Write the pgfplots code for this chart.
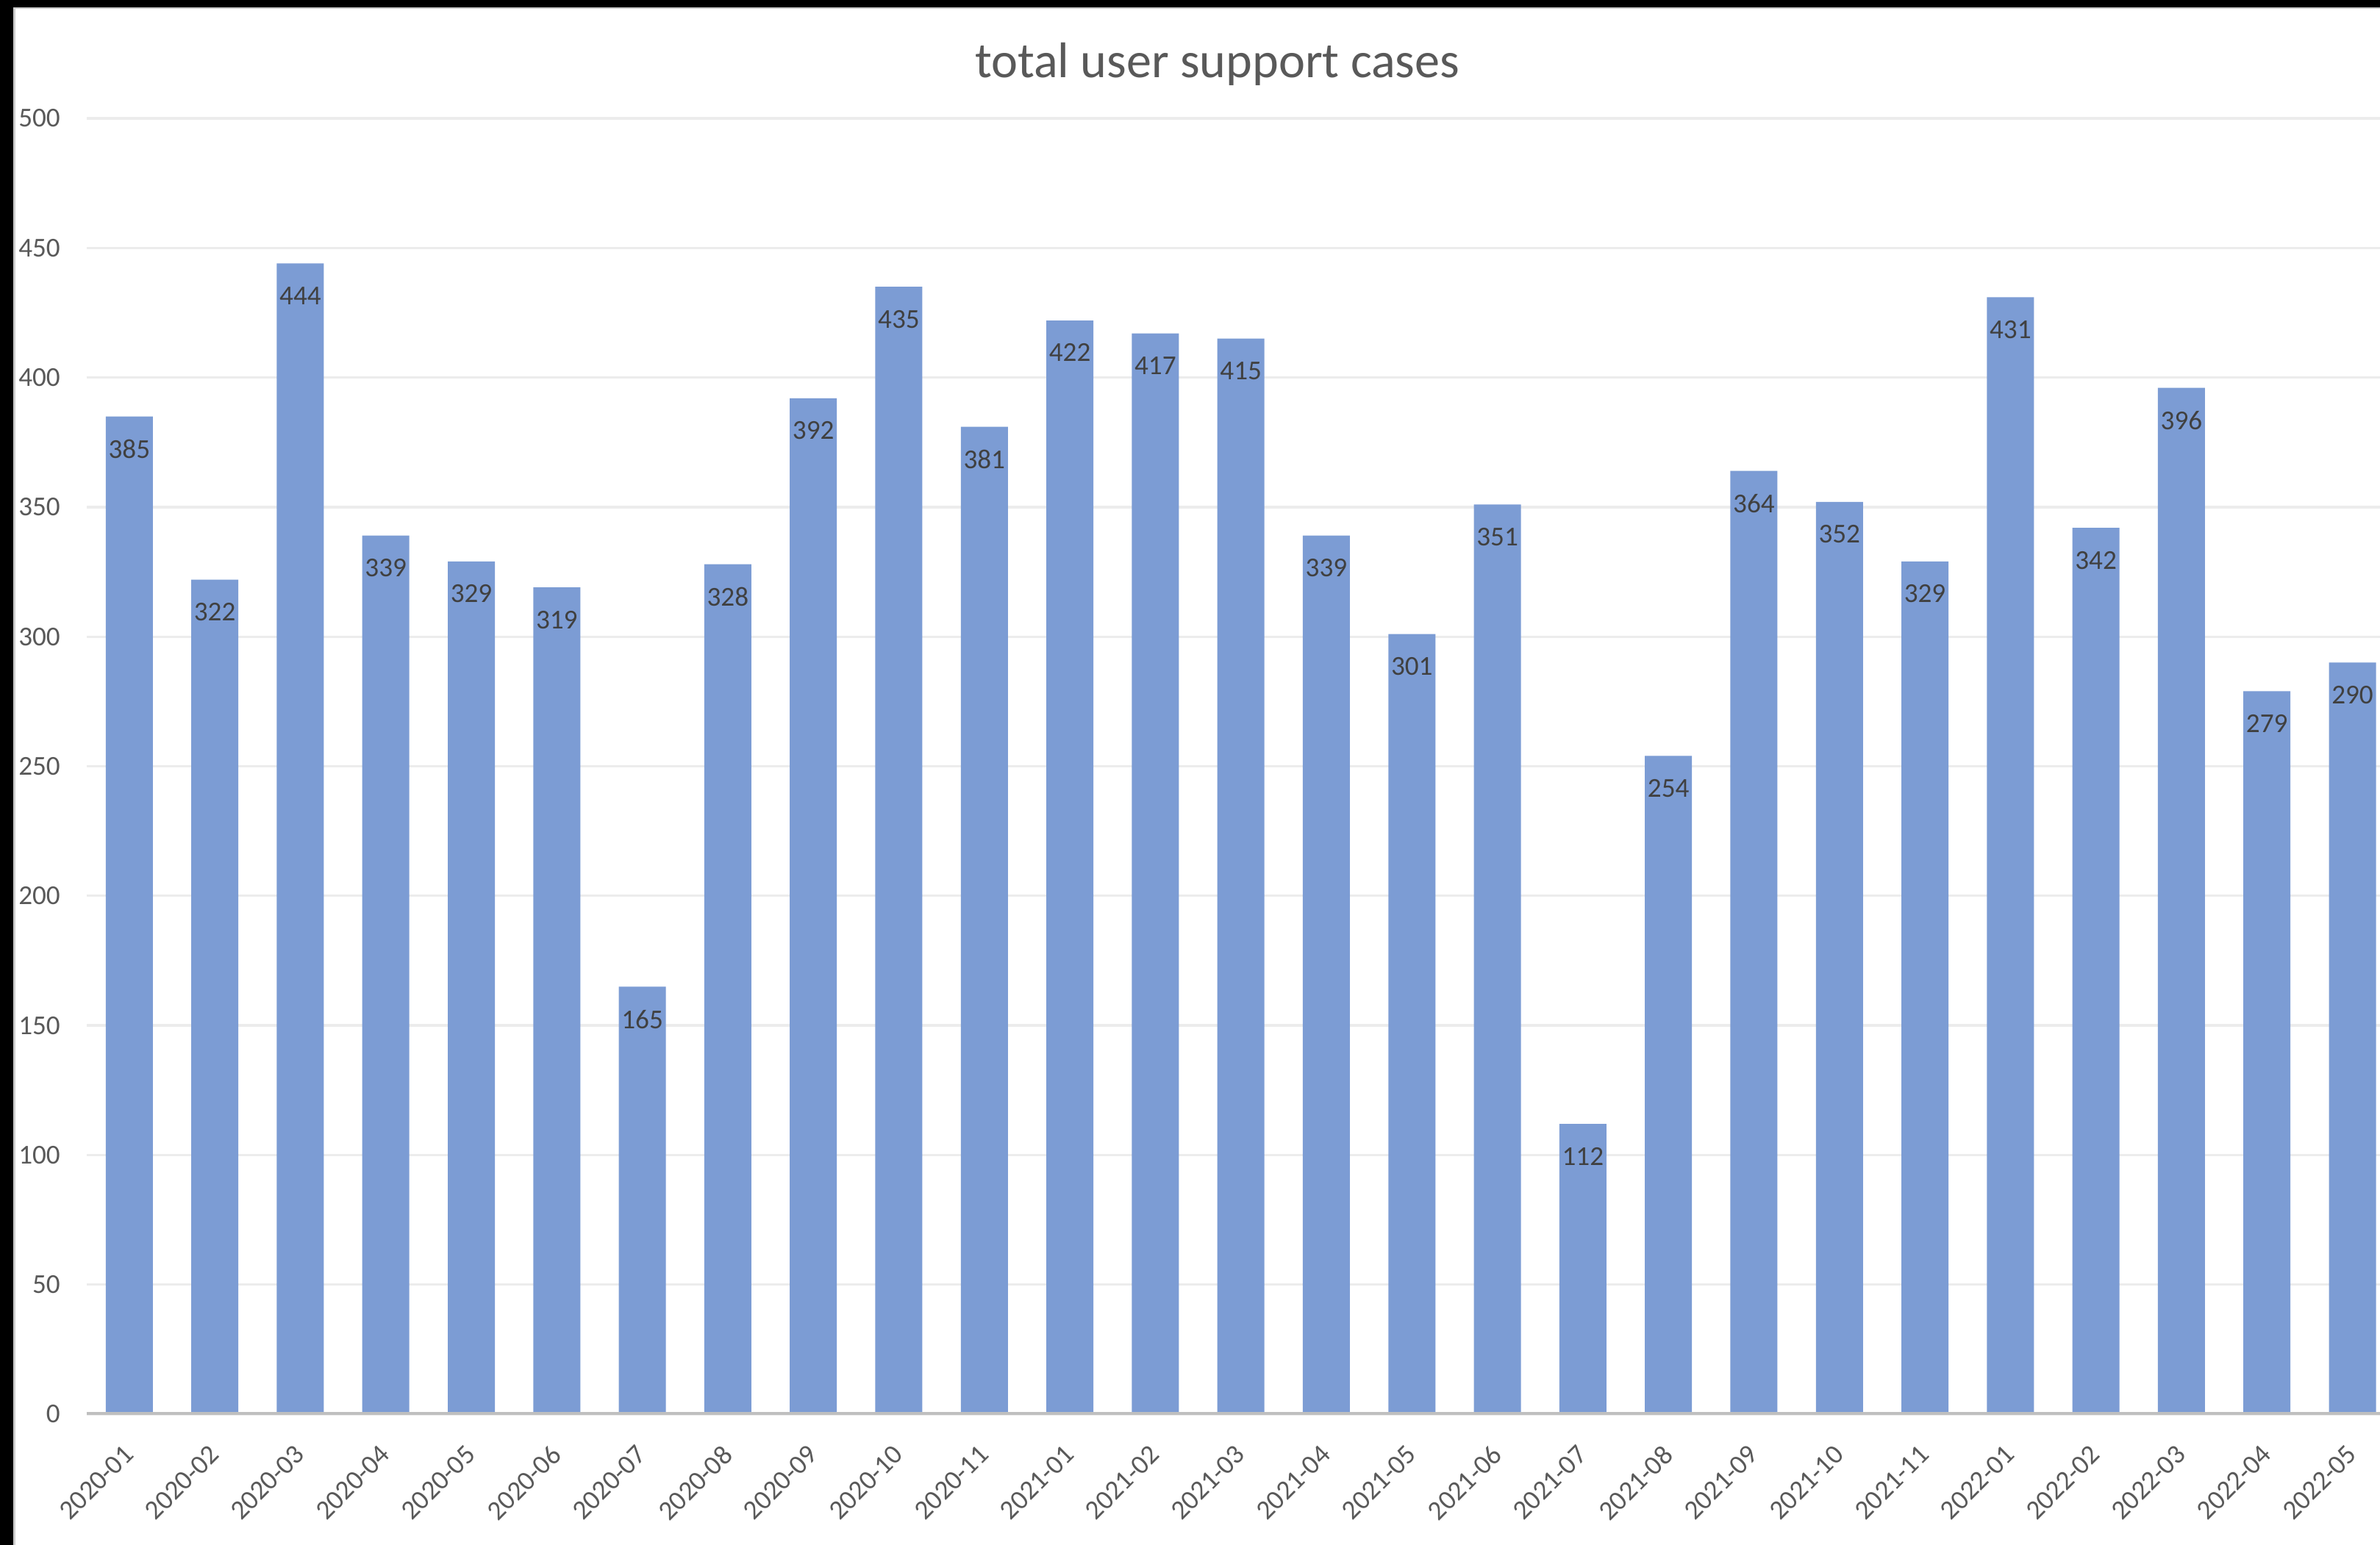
\documentclass[border=0pt]{standalone}
\usepackage{pgfplots}
\pgfplotsset{compat=1.18}
\usepackage{fontspec}
\setmainfont{Carlito}
\definecolor{barblue}{RGB}{124,156,212}
\definecolor{gridgray}{RGB}{236,236,236}
\definecolor{axisgray}{RGB}{191,191,191}
\definecolor{ticktext}{RGB}{89,89,89}
\definecolor{labeltext}{RGB}{64,64,64}
\begin{document}
\begin{tikzpicture}
\path[use as bounding box] (0,0) rectangle (784pt,509pt);
\clip (0,0) rectangle (784pt,509pt);
\fill[white] (0,0) rectangle (784pt,509pt);
\begin{axis}[
  at={(28.5pt,43pt)}, anchor=south west,
  scale only axis, width=760.5pt, height=427pt,
  xmin=-0.5, xmax=26.5, ymin=0, ymax=500,
  ybar, bar width=15.5pt, bar shift=0pt,
  axis line style={draw=none},
  ytick={0,50,...,500},
  xtick=data,
  xticklabels={2020-01,2020-02,2020-03,2020-04,2020-05,2020-06,2020-07,2020-08,2020-09,2020-10,2020-11,2021-01,2021-02,2021-03,2021-04,2021-05,2021-06,2021-07,2021-08,2021-09,2021-10,2021-11,2022-01,2022-02,2022-03,2022-04,2022-05},
  major tick length=0pt,
  ymajorgrids, grid style={draw=gridgray, line width=0.8pt},
  /pgf/number format/assume math mode=true,
  yticklabel style={font=\fontsize{9}{10}\selectfont, text=ticktext, anchor=east, inner sep=0pt, xshift=-8.5pt},
  xticklabel style={font=\fontsize{9}{10}\selectfont, text=ticktext, inner sep=0pt, xshift=-2.3pt, yshift=-9.5pt, rotate=45, anchor=north east},
  nodes near coords,
  every node near coord/.append style={font=\fontsize{9}{10}\selectfont, text=labeltext, anchor=north, inner sep=0pt, yshift=-7.5pt},
]
\addplot[fill=barblue, draw=none] coordinates {
(0,385) (1,322) (2,444) (3,339) (4,329) (5,319) (6,165) (7,328) (8,392) (9,435) (10,381)
(11,422) (12,417) (13,415) (14,339) (15,301) (16,351) (17,112) (18,254) (19,364) (20,352) (21,329)
(22,431) (23,342) (24,396) (25,279) (26,290)
};
\draw[axisgray, line width=1.3pt] (axis cs:-0.5,0) -- (axis cs:26.5,0);
\end{axis}
\node[anchor=base, text=ticktext, font=\fontsize{16.5}{18}\selectfont] at (401pt,483.5pt) {total user support cases};
\draw[black!20, line width=0.6pt] (4.7pt,0) -- (4.7pt,506.3pt) -- (784pt,506.3pt);
\fill[black] (0,506.6pt) rectangle (784pt,509pt);
\fill[black] (0,0) rectangle (4.4pt,509pt);
\end{tikzpicture}
\end{document}
